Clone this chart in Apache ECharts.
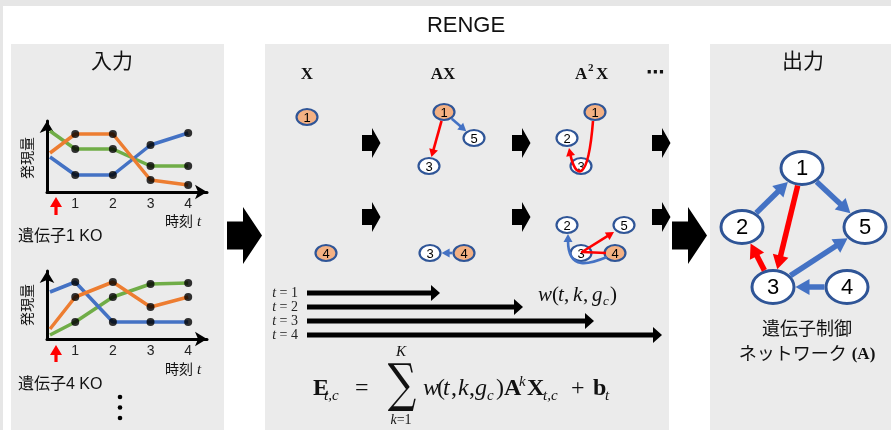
<!DOCTYPE html>
<html><head><meta charset="utf-8">
<script src="https://cdn.jsdelivr.net/npm/echarts@6/dist/echarts.min.js"></script>
<style>html,body{margin:0;padding:0;background:#fff}#c{width:891px;height:430px}</style>
</head><body><div id="c"></div>
<script>
// ---------------- data ----------------
const timePoints = [0.33, 1, 2, 3, 4];      // KO time, then t = 1..4
const timeTicks = [1, 2, 3, 4];
const ko1Blue   = [35, 17, 17, 47, 59];
const ko1Orange = [39, 58, 58, 12, 7];
const ko1Green  = [61, 43, 43, 26, 26];
const ko4Blue   = [47, 57, 17, 17, 17];
const ko4Orange = [10, 42, 57, 32, 42];
const ko4Green  = [4, 17, 42, 55, 56];
const koLabels  = ['遺伝子1 KO', '遺伝子4 KO'];

const weightRows   = ['1', '2', '3', '4'];
const weightLength = [133, 216, 287, 355];

// network layouts: [label, x, y, active]
const netX1   = [['1', 307, 117, 1]];
const netX2   = [['4', 326, 253, 1]];
const netAX1  = [['1', 444, 112, 1], ['5', 474, 138, 0], ['3', 429, 166, 0]];
const netAX2  = [['3', 430, 253, 0], ['4', 464, 253, 1]];
const netA2X1 = [['1', 595, 112, 1], ['2', 567, 138, 0], ['3', 581, 166, 0]];
const netA2X2 = [['2', 567, 225, 0], ['5', 624, 225, 0], ['3', 581, 253, 0], ['4', 615, 253, 1]];
const netA    = [['1', 802, 168, 0], ['2', 742, 227, 0], ['5', 865, 227, 0], ['3', 773, 287, 0], ['4', 847, 287, 0]];

const edgesAX1 = [['1', '5', 'b'], ['1', '3', 'r']];
const edgesAX2 = [['4', '3', 'b']];
const edgesA   = [['2', '1', 'b'], ['1', '5', 'b'], ['1', '3', 'r'], ['3', '2', 'r'], ['3', '5', 'b'], ['4', '3', 'b']];
// two-step paths of A^2 X (waypoints)
const pathsA2X = [
  { kind: 'bezier', color: 'r', pts: [[593, 121], [588, 185], [574, 172], [569, 148]] },
  { kind: 'bezier', color: 'b', pts: [[607, 257], [590, 264], [568, 265], [568, 234]] },
  { kind: 'poly',   color: 'r', pts: [[606, 253], [582, 252], [614, 232]] }
];

// ---------------- styles ----------------
const SANS = "'Liberation Sans', Arial, 'Noto Sans CJK JP', sans-serif";
const CJK = "'Liberation Sans', 'Noto Sans CJK JP', sans-serif";
const SERIF = "'Liberation Serif', 'DejaVu Serif', serif";
const C_BLUE = '#4472c4', C_ORANGE = '#ed7d31', C_GREEN = '#70ad47';
const EDGE_COLORS = { b: '#4472c4', r: '#ff0000' };
const NODE_BORDER = '#2f5597', NODE_ACTIVE = '#f4b183';
const BIG = { rx: 21, ry: 16.5, lw: 3, font: 22, ew: 5.5, headL: 14, headW: 8 };
const SMALL = { rx: 10.5, ry: 8, lw: 2.2, font: 13, ew: 2.6, headL: 8, headW: 4.5 };

// build node / edge lists
const allNodes = [];
const allEdges = [];
function addNet(layout, edges, big) {
  const map = {};
  layout.forEach(n => { const o = { label: n[0], x: n[1], y: n[2], active: n[3], big }; map[n[0]] = o; allNodes.push(o); });
  (edges || []).forEach(e => allEdges.push({ kind: 'line', color: e[2], big, pts: [[map[e[0]].x, map[e[0]].y], [map[e[1]].x, map[e[1]].y]] }));
}
addNet(netX1, null, false); addNet(netX2, null, false);
addNet(netAX1, edgesAX1, false); addNet(netAX2, edgesAX2, false);
addNet(netA2X1, null, false); addNet(netA2X2, null, false);
addNet(netA, edgesA, true);
pathsA2X.forEach(p => allEdges.push({ kind: p.kind, color: p.color, big: false, pts: p.pts }));

function ellR(st, dx, dy) { return st.rx * st.ry / Math.sqrt(Math.pow(st.ry * dx, 2) + Math.pow(st.rx * dy, 2)); }

function renderNode(params, api) {
  const n = allNodes[params.dataIndex];
  const st = n.big ? BIG : SMALL;
  const p = api.coord([n.x, n.y]);
  return { type: 'group', children: [
    { type: 'ellipse', shape: { cx: p[0], cy: p[1], rx: st.rx, ry: st.ry }, style: { fill: n.active ? NODE_ACTIVE : '#fff', stroke: NODE_BORDER, lineWidth: st.lw } },
    { type: 'text', x: p[0], y: p[1] + 1, style: { text: n.label, font: st.font + 'px ' + SANS, fill: '#000', textAlign: 'center', textVerticalAlign: 'middle' } }
  ] };
}

function renderEdge(params, api) {
  const e = allEdges[params.dataIndex];
  const st = e.big ? BIG : SMALL;
  const color = EDGE_COLORS[e.color];
  let P = e.pts.map(p => api.coord(p));
  if (e.kind === 'line') {
    let dx = P[1][0] - P[0][0], dy = P[1][1] - P[0][1];
    const len = Math.hypot(dx, dy); dx /= len; dy /= len;
    const r = ellR(st, dx, dy) + st.lw / 2;
    P = [[P[0][0] + dx * r, P[0][1] + dy * r], [P[1][0] - dx * r, P[1][1] - dy * r]];
  }
  const n = P.length;
  const a = P[n - 2], b = P[n - 1];
  let dx = b[0] - a[0], dy = b[1] - a[1];
  const len = Math.hypot(dx, dy); dx /= len; dy /= len;
  const L = st.headL, W = st.headW;
  const bx = b[0] - dx * L, by = b[1] - dy * L;
  const head = [[b[0], b[1]], [bx - dy * W, by + dx * W], [bx + dy * W, by - dx * W]];
  const cut = L * 0.8;
  const Q = P.map(p => p.slice());
  let body;
  if (e.kind === 'bezier') {
    Q[3] = [b[0] - dx * cut, b[1] - dy * cut];
    Q[2] = [P[2][0] - dx * cut, P[2][1] - dy * cut];
    body = { type: 'bezierCurve', shape: { x1: Q[0][0], y1: Q[0][1], cpx1: Q[1][0], cpy1: Q[1][1], cpx2: Q[2][0], cpy2: Q[2][1], x2: Q[3][0], y2: Q[3][1] }, style: { stroke: color, lineWidth: st.ew, fill: 'none' } };
  } else {
    Q[n - 1] = [b[0] - dx * cut, b[1] - dy * cut];
    body = { type: 'polyline', shape: { points: Q }, style: { stroke: color, lineWidth: st.ew, fill: 'none', lineJoin: 'round' } };
  }
  return { type: 'group', children: [body, { type: 'polygon', shape: { points: head }, style: { fill: color } }] };
}

function renderWeight(params, api) {
  const s = api.coord([0, api.value(1)]);
  const e = api.coord([api.value(0), api.value(1)]);
  const y = s[1], hl = 9, bh = 2.6, hh = 8;
  return { type: 'polygon', shape: { points: [[s[0], y - bh], [e[0] - hl, y - bh], [e[0] - hl, y - hh], [e[0], y], [e[0] - hl, y + hh], [e[0] - hl, y + bh], [s[0], y + bh]] }, style: { fill: '#000' } };
}

// ---------------- chart helpers ----------------
function xAx(gi) {
  return { gridIndex: gi, type: 'value', min: 0.25, max: 4.5,
    axisLine: { show: true, onZero: false, lineStyle: { color: '#000', width: 3 }, symbol: ['none', 'arrow'], symbolSize: [11, 12] },
    axisTick: { show: false }, splitLine: { show: false },
    axisLabel: { customValues: timeTicks, fontSize: 14, color: '#222', fontFamily: 'Liberation Sans', margin: 5 } };
}
function yAx(gi, max) {
  return { gridIndex: gi, type: 'value', min: 0, max: max,
    axisLine: { show: true, onZero: false, lineStyle: { color: '#000', width: 3 }, symbol: ['none', 'arrow'], symbolSize: [11, 12] },
    axisTick: { show: false }, splitLine: { show: false }, axisLabel: { show: false } };
}
function lineSeries(gi, vals, color) {
  return { type: 'line', xAxisIndex: gi, yAxisIndex: gi, data: timePoints.map((t, i) => [t, vals[i]]),
    showSymbol: false, symbol: 'none', lineStyle: { color: color, width: 3.5 }, itemStyle: { color: color }, z: 3, silent: true };
}
function dotSeries(gi, arrs) {
  const d = [];
  arrs.forEach(v => timePoints.forEach((t, i) => { if (i > 0) d.push([t, v[i]]); }));
  return { type: 'scatter', xAxisIndex: gi, yAxisIndex: gi, data: d, symbolSize: 8, itemStyle: { color: '#000' }, z: 4, silent: true };
}

// ---------------- graphic decoration ----------------
function txt(x, y, text, font, extra) {
  return { type: 'text', x: x, y: y, z: 20, silent: true,
    style: Object.assign({ text: text, font: font, fill: '#111', textAlign: 'left', textVerticalAlign: 'middle' }, extra || {}) };
}
const CENTER = { textAlign: 'center' };
function blockArrow(x0, cy, bodyLen, headLen, bodyH, headH) {
  return { type: 'polygon', z: 1, silent: true, shape: { points: [[x0, cy - bodyH], [x0 + bodyLen, cy - bodyH], [x0 + bodyLen, cy - headH], [x0 + bodyLen + headLen, cy], [x0 + bodyLen, cy + headH], [x0 + bodyLen, cy + bodyH], [x0, cy + bodyH]] }, style: { fill: '#000' } };
}
function upArrow(x, tipY, bottomY) {
  const hl = 10, hw = 6, sw = 1.6;
  return { type: 'polygon', z: 5, silent: true, shape: { points: [[x, tipY], [x + hw, tipY + hl], [x + sw, tipY + hl], [x + sw, bottomY], [x - sw, bottomY], [x - sw, tipY + hl], [x - hw, tipY + hl]] }, style: { fill: '#ff0000' } };
}
const IT = s => 'italic ' + s + 'px ' + SERIF;
const RM = s => s + 'px ' + SERIF;
const BD = s => 'bold ' + s + 'px ' + SERIF;

const graphics = [
  { type: 'rect', z: -20, silent: true, shape: { x: 0, y: 0, width: 891, height: 430 }, style: { fill: '#e6e6e6' } },
  { type: 'rect', z: -19, silent: true, shape: { x: 3, y: 6, width: 888, height: 424 }, style: { fill: '#ffffff' } },
  { type: 'rect', z: -10, silent: true, shape: { x: 11, y: 44, width: 213, height: 386 }, style: { fill: '#ebebeb' } },
  { type: 'rect', z: -10, silent: true, shape: { x: 265, y: 44, width: 404, height: 386 }, style: { fill: '#ebebeb' } },
  { type: 'rect', z: -10, silent: true, shape: { x: 710, y: 44, width: 181, height: 386 }, style: { fill: '#ebebeb' } },
  txt(466, 26, 'RENGE', '22px ' + SANS, CENTER),
  txt(112, 62, '入力', '21px ' + CJK, CENTER),
  txt(803, 62, '出力', '21px ' + CJK, CENTER),
  // big arrows between panels
  blockArrow(227, 235.5, 16, 19, 14, 28.5),
  blockArrow(672, 235.5, 16, 19, 14, 28.5),
  // left panel texts
  Object.assign(txt(28, 158, '発現量', '14px ' + CJK, CENTER), { rotation: Math.PI / 2 }),
  Object.assign(txt(28, 305, '発現量', '14px ' + CJK, CENTER), { rotation: Math.PI / 2 }),
  txt(165, 222, '時刻 {i|t}', '14px ' + CJK, { rich: { i: { font: IT(15), fill: '#111' } } }),
  txt(165, 370, '時刻 {i|t}', '14px ' + CJK, { rich: { i: { font: IT(15), fill: '#111' } } }),
  txt(18, 237, koLabels[0], '16px ' + CJK),
  txt(18, 385, koLabels[1], '16px ' + CJK),
  upArrow(56, 197, 215),
  upArrow(56, 345, 362),
  { type: 'circle', z: 5, silent: true, shape: { cx: 120, cy: 397, r: 2.3 }, style: { fill: '#000' } },
  { type: 'circle', z: 5, silent: true, shape: { cx: 120, cy: 407.5, r: 2.3 }, style: { fill: '#000' } },
  { type: 'circle', z: 5, silent: true, shape: { cx: 120, cy: 418, r: 2.3 }, style: { fill: '#000' } },
  // middle panel headers
  txt(307, 75, 'X', BD(17), CENTER),
  txt(443, 75, 'AX', BD(17), CENTER),
  txt(575, 75, 'A', BD(17)),
  txt(588, 68, '2', BD(11)),
  txt(596, 75, 'X', BD(17)),
  txt(655, 73, '⋯', 'bold 18px DejaVu Sans', CENTER),
  // w(t,k,g_c)
  txt(538, 295, 'w', IT(21)),
  txt(552, 295, '(', RM(21)),
  txt(558, 295, 't', IT(21)),
  txt(564, 295, ',', RM(21)),
  txt(573, 295, 'k', IT(21)),
  txt(583, 295, ',', RM(21)),
  txt(592, 295, 'g', IT(21)),
  txt(603, 302, 'c', IT(13)),
  txt(610, 295, ')', RM(21)),
  // formula
  txt(313, 389, 'E', BD(24)),
  txt(324, 396, 't,c', IT(15)),
  txt(355, 389, '=', RM(24)),
  Object.assign(txt(402, 387, '∑', '38px DejaVu Serif', CENTER), { scaleX: 1.05, scaleY: 1.38 }),
  txt(401, 352, 'K', IT(15), CENTER),
  txt(401, 420, '{i|k}=1', RM(14), Object.assign({ rich: { i: { font: IT(14), fill: '#111' } } }, CENTER)),
  txt(423, 389, 'w', IT(24)),
  txt(437, 389, '(', RM(24)),
  txt(443, 389, 't', IT(24)),
  txt(451, 389, ',', RM(24)),
  txt(458, 389, 'k', IT(24)),
  txt(469, 389, ',', RM(24)),
  txt(475, 389, 'g', IT(24)),
  txt(487, 396, 'c', IT(15)),
  txt(496, 389, ')', RM(24)),
  txt(504, 389, 'A', BD(24)),
  txt(519, 382, 'k', IT(15)),
  txt(527, 389, 'X', BD(24)),
  txt(543, 396, 't,c', IT(15)),
  txt(571, 389, '+', RM(24)),
  txt(593, 389, 'b', BD(24)),
  txt(605, 396, 't', IT(15)),
  // right panel caption
  txt(807, 330, '遺伝子制御', '18px ' + CJK, CENTER),
  txt(807, 355, 'ネットワーク {b|(A)}', '18px ' + CJK, Object.assign({ rich: { b: { font: BD(17), fill: '#111' } } }, CENTER))
];
[362, 512, 652].forEach(x => [143, 217].forEach(y => graphics.push(blockArrow(x, y, 10, 8.5, 8, 15))));

// ---------------- option ----------------
const option = {
  animation: false,
  backgroundColor: 'transparent',
  grid: [
    { left: 47, top: 121, width: 160, height: 71 },
    { left: 47, top: 271, width: 160, height: 68 },
    { left: 0, top: 0, width: 891, height: 430 },
    { left: 307, top: 286, width: 355, height: 56 }
  ],
  xAxis: [xAx(0), xAx(1),
    { gridIndex: 2, type: 'value', min: 0, max: 891, show: false },
    { gridIndex: 3, type: 'value', min: 0, max: 355, show: false }],
  yAxis: [yAx(0, 71), yAx(1, 68),
    { gridIndex: 2, type: 'value', min: 0, max: 430, inverse: true, show: false },
    { gridIndex: 3, type: 'category', data: weightRows, inverse: true,
      axisLine: { show: false }, axisTick: { show: false }, splitLine: { show: false },
      axisLabel: { interval: 0, hideOverlap: false, margin: 9, color: '#222', fontSize: 14, fontFamily: SERIF, lineHeight: 14,
        formatter: v => '{i|t} = ' + v, rich: { i: { fontStyle: 'italic', fontFamily: SERIF, fontSize: 14, color: '#222' } } } }],
  graphic: graphics,
  series: [
    lineSeries(0, ko1Green, C_GREEN), lineSeries(0, ko1Blue, C_BLUE), lineSeries(0, ko1Orange, C_ORANGE),
    dotSeries(0, [ko1Blue, ko1Orange, ko1Green]),
    lineSeries(1, ko4Green, C_GREEN), lineSeries(1, ko4Blue, C_BLUE), lineSeries(1, ko4Orange, C_ORANGE),
    dotSeries(1, [ko4Blue, ko4Orange, ko4Green]),
    { type: 'custom', xAxisIndex: 2, yAxisIndex: 2, z: 5, silent: true, data: allNodes.map(n => [n.x, n.y]), renderItem: renderNode },
    { type: 'custom', xAxisIndex: 2, yAxisIndex: 2, z: 6, silent: true, data: allEdges.map(e => e.pts[0]), renderItem: renderEdge },
    { type: 'custom', xAxisIndex: 3, yAxisIndex: 3, z: 5, silent: true, data: weightLength.map((v, i) => [v, weightRows[i]]), renderItem: renderWeight }
  ]
};
const chart = echarts.init(document.getElementById('c'), null, { renderer: 'canvas' });
chart.setOption(option);
</script></body></html>
